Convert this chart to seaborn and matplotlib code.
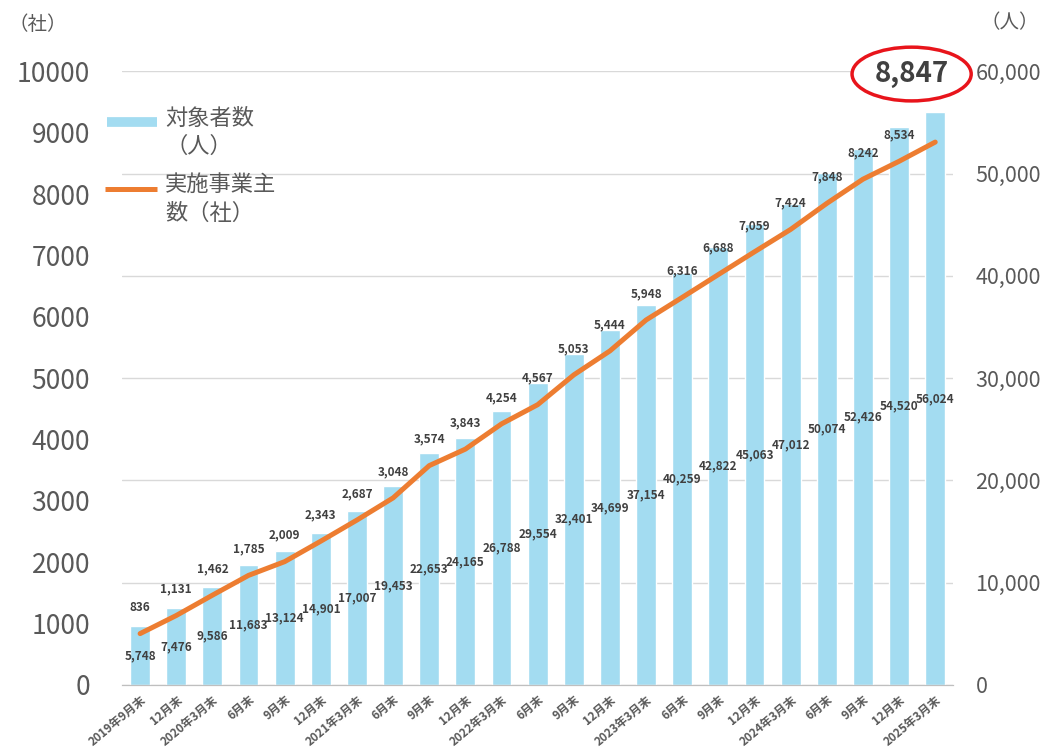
import numpy as np
import pandas as pd
import matplotlib.pyplot as plt
import seaborn as sns
from matplotlib.lines import Line2D

sns.set_style("white")
plt.rcParams['font.family'] = ['Noto Sans CJK JP', 'DejaVu Sans']

# data
tick_labels = ["2019年9月末", "12月末", "2020年3月末", "6月末", "9月末", "12月末",
               "2021年3月末", "6月末", "9月末", "12月末", "2022年3月末", "6月末",
               "9月末", "12月末", "2023年3月末", "6月末", "9月末", "12月末",
               "2024年3月末", "6月末", "9月末", "12月末", "2025年3月末"]
persons = [5748, 7476, 9586, 11683, 13124, 14901, 17007, 19453, 22653, 24165,
           26788, 29554, 32401, 34699, 37154, 40259, 42822, 45063, 47012, 50074,
           52426, 54520, 56024]
companies = [836, 1131, 1462, 1785, 2009, 2343, 2687, 3048, 3574, 3843, 4254,
             4567, 5053, 5444, 5948, 6316, 6688, 7059, 7424, 7848, 8242, 8534, 8847]

BAR = "#A3DCF1"
LINE = "#ED7D31"
GRAY = "#595959"
DARK = "#404040"

n = len(persons)
df = pd.DataFrame({"pos": np.arange(n), "persons": persons, "companies": companies})

fig = plt.figure(figsize=(10.43, 7.51), dpi=100)
ax = fig.add_axes([0.117, 0.088, 0.797, 0.817])

# bars: persons, right-hand scale
sns.barplot(data=df, x="pos", y="persons", color=BAR, width=0.55,
            saturation=1, ax=ax)
ax.set_ylim(0, 60000)
ax.set_yticks(np.arange(0, 60001, 10000))
ax.set_yticklabels([f"{v:,}" for v in range(0, 60001, 10000)])
ax.yaxis.grid(True, color="#D9D9D9", linewidth=1)
ax.set_axisbelow(True)
ax.set_xlim(-0.5, n - 0.5)

# line: companies, left-hand scale
ax2 = ax.twinx()
sns.lineplot(data=df, x="pos", y="companies", color=LINE, linewidth=3.6,
             solid_capstyle="round", ax=ax2)
ax2.set_ylim(0, 10000)
ax2.set_yticks(np.arange(0, 10001, 1000))
ax2.set_xlim(-0.5, n - 0.5)

# twinx puts the first axis on the left, so swap sides afterwards
ax.yaxis.tick_right()
ax2.yaxis.tick_left()

for a in (ax, ax2):
    a.set_xlabel("")
    a.set_ylabel("")
    for s in ("left", "right", "top"):
        a.spines[s].set_visible(False)
    a.spines["bottom"].set_color("#BFBFBF")

ax.tick_params(axis="y", length=0, pad=16, labelsize=15.5, labelcolor=GRAY)
ax2.tick_params(axis="y", length=0, pad=23, labelsize=19, labelcolor=GRAY)

ax.set_xticks(np.arange(n))
ax.set_xticklabels(tick_labels, rotation=40, ha="right", rotation_mode="anchor",
                   fontsize=8.5, fontweight="bold", color=GRAY)
ax.set_xticks(np.arange(n + 1) - 0.5, minor=True)
ax.tick_params(axis="x", which="major", length=0, pad=6)
ax.tick_params(axis="x", which="minor", length=5, color="#BFBFBF")

# value labels
for i, v in enumerate(persons):
    ax.text(i, v / 2, f"{v:,}", ha="center", va="center", fontsize=8.5,
            fontweight="bold", color=DARK)
for i, v in enumerate(companies[:-1]):
    ax2.annotate(f"{v:,}", (i, v), xytext=(0, 19), textcoords="offset points",
                 ha="center", va="center", fontsize=8.5, fontweight="bold",
                 color=DARK)
ax2.annotate(f"{companies[-1]:,}", (n - 1, companies[-1]), xytext=(-17, 49),
             textcoords="offset points", ha="center", va="center", fontsize=20,
             fontweight="bold", color=DARK, annotation_clip=False,
             bbox=dict(boxstyle="ellipse,pad=0.18", fc="white", ec="#E8141B", lw=2.5))

# legend (handle aligned to first text line, as in the original)
ax2.add_line(Line2D([-0.018, 0.042], [0.917, 0.917], transform=ax2.transAxes,
                    color=BAR, linewidth=7, solid_capstyle="butt", clip_on=False))
ax2.add_line(Line2D([-0.020, 0.042], [0.809, 0.809], transform=ax2.transAxes,
                    color=LINE, linewidth=3.6, solid_capstyle="butt", clip_on=False))
ax2.text(0.052, 0.942, "対象者数\n（人）", transform=ax2.transAxes, va="top",
         ha="left", fontsize=16, color=GRAY, linespacing=1.3)
ax2.text(0.052, 0.834, "実施事業主\n数（社）", transform=ax2.transAxes, va="top",
         ha="left", fontsize=16, color=GRAY, linespacing=1.3)

# unit labels
fig.text(0.008, 0.968, "（社）", fontsize=14, color=GRAY, va="center", ha="left")
fig.text(0.940, 0.970, "（人）", fontsize=14, color=GRAY, va="center", ha="left")

fig.savefig("out.png", dpi=100)
